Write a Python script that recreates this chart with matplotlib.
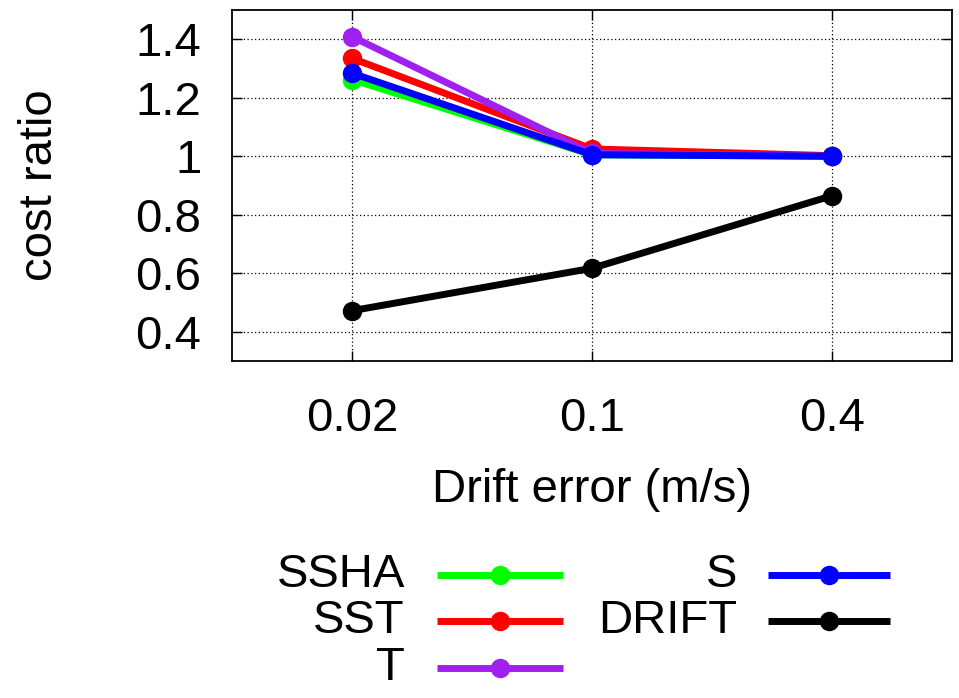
import matplotlib
matplotlib.use("Agg")
import matplotlib.pyplot as plt
from matplotlib.lines import Line2D

plt.rcParams['font.family'] = ['Liberation Sans', 'DejaVu Sans']

x_labels = ["0.02", "0.1", "0.4"]
series_names = ["SSHA", "SST", "T", "S", "DRIFT"]
ssha = [1.262, 1.005, 1.0]
sst = [1.335, 1.025, 1.002]
t_vals = [1.409, 1.010, 1.0]
s_vals = [1.284, 1.005, 1.0]
drift = [0.472, 0.617, 0.865]
colors = ["#00ff00", "#ff0000", "#a020f0", "#0000ff", "#000000"]

values = [ssha, sst, t_vals, s_vals, drift]
xs = list(range(len(x_labels)))

W, H = 959, 698
fig = plt.figure(figsize=(W/100, H/100), dpi=100)
L, R, T, B = 232, 952, 10, 361
ax = fig.add_axes([L/W, 1-B/H, (R-L)/W, (B-T)/H])

for name, vals, c in zip(series_names, values, colors):
    ax.plot(xs, vals, color=c, lw=5, marker='o', ms=13, solid_capstyle='butt', zorder=3)

ax.set_xlim(-0.5, 2.5)
ax.set_ylim(0.3, 1.5)
ax.set_xticks(xs)
ax.set_xticklabels(x_labels)
ax.set_yticks([0.4, 0.6, 0.8, 1.0, 1.2, 1.4])
ax.set_yticklabels(["0.4", "0.6", "0.8", "1", "1.2", "1.4"])
ax.grid(True, color='black', linestyle=(0, (1, 2)), linewidth=0.9)
ax.tick_params(direction='in', length=7, width=1, top=True, right=True, labelsize=34)
ax.tick_params(axis='y', pad=22)
ax.tick_params(axis='x', pad=26)
for sp in ax.spines.values():
    sp.set_linewidth(1.3)
ax.set_xlabel("Drift error (m/s)", fontsize=34, va='center')
ax.xaxis.set_label_coords(0.5, (B-490)/(B-T))
ax.set_ylabel("cost ratio", fontsize=34, va='center')
ax.yaxis.set_label_coords((40-L)/(R-L), 0.5)

# gnuplot-style legend below the plot
legend_layout = [
    (405, 437, 563, 575), (405, 437, 563, 621), (405, 437, 563, 668),
    (737, 768, 890, 575), (737, 768, 890, 621),
]
for name, c, (tx, x0, x1, y) in zip(series_names, colors, legend_layout):
    fy = 1 - y/H
    fig.text(tx/W, fy, name, ha='right', va='center', fontsize=34)
    fig.add_artist(Line2D([x0/W, x1/W], [fy, fy], color=c, lw=5,
                          transform=fig.transFigure, solid_capstyle='butt'))
    fig.add_artist(Line2D([(x0+x1)/2/W], [fy], color=c, marker='o', ms=13,
                          transform=fig.transFigure))

fig.savefig("out.png", dpi=100)
